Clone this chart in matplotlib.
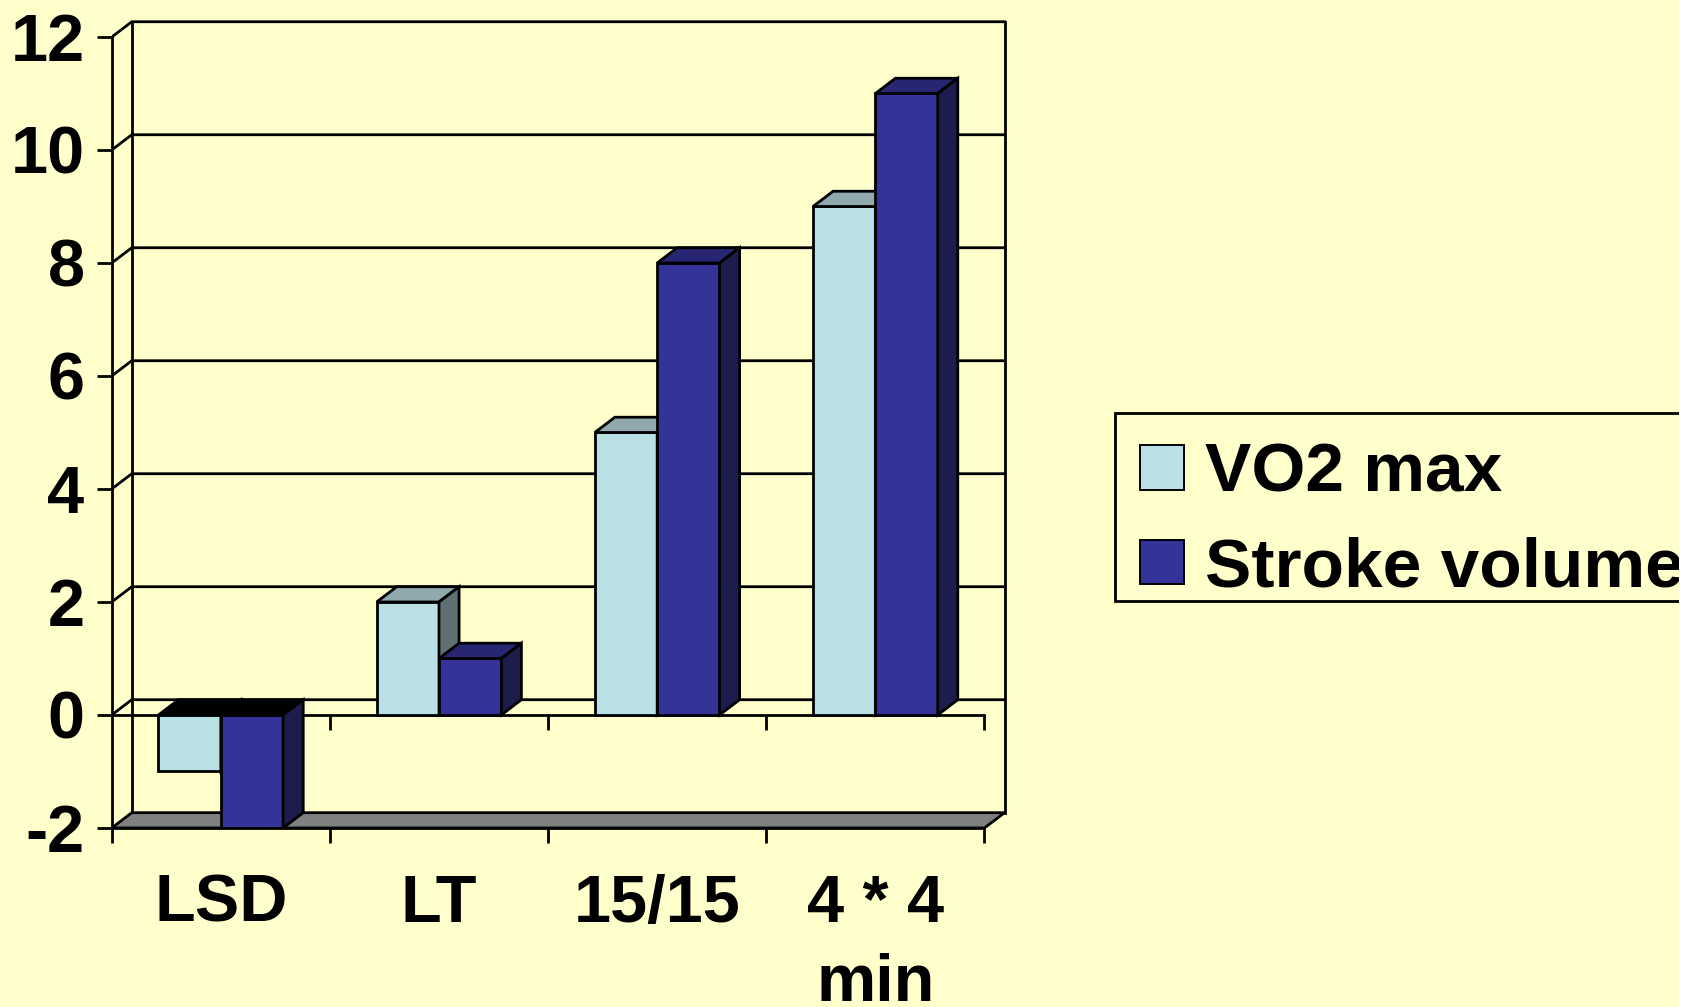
import matplotlib
matplotlib.use('Agg')
import matplotlib.pyplot as plt
from matplotlib.patches import Polygon, Rectangle, Patch

categories = ['LSD', 'LT', '15/15', '4 * 4\nmin']
vo2_max = [-1, 2, 5, 9]
stroke_volume = [-2, 1, 8, 11]
series_names = ['VO2 max', 'Stroke volume']
y_ticks = [-2, 0, 2, 4, 6, 8, 10, 12]

BG = '#FFFFCC'
face_colors = ['#B9E0E4', '#333399']
top_colors = ['#8FA9AC', '#262673']
side_colors = ['#5F7072', '#1C1C4D']

# fake 3d depth, in data units (x = categories, y = values)
DX = 0.092
DY = 0.27
BAR_W = 1 / 3.5          # excel gap width 150%
GAP = 0.75 * BAR_W
LW = 2.0

plt.rcParams['font.family'] = ['Liberation Sans', 'DejaVu Sans']
plt.rcParams['font.weight'] = 'bold'

fig = plt.figure(figsize=(17.03, 10.07), dpi=100, facecolor=BG)
ax = fig.add_axes([0.0656, 0.1778, 0.5381, 0.8079])
ax.set_facecolor('none')
n = len(categories)
ymin, ymax = y_ticks[0], y_ticks[-1]
ax.set_xlim(0, n + 0.2)
ax.set_ylim(ymin, ymax + 0.4)

# floor
ax.add_patch(Polygon([(0, ymin), (n, ymin), (n + DX, ymin + DY), (DX, ymin + DY)],
                     closed=True, fc='#808080', ec='black', lw=LW, zorder=1))
# back wall with gridlines
for v in y_ticks[1:]:
    ax.plot([0, DX, n + DX], [v, v + DY, v + DY], color='black', lw=LW, zorder=0.5)
for xw in [DX, n + DX]:
    ax.plot([xw, xw], [ymin + DY, ymax + DY], color='black', lw=LW, zorder=0.5)

# front zero line with small ticks
ax.plot([0, n], [0, 0], color='black', lw=LW, zorder=1.5)
ax.plot(list(range(1, n + 1)), [0] * n, ls='none', marker=3, markersize=11,
        mew=LW, color='black', zorder=1.5)


def bar3d(x0, v, i):
    x1 = x0 + BAR_W
    lo, hi = min(0, v), max(0, v)
    ax.add_patch(Rectangle((x0, lo), BAR_W, hi - lo, fc=face_colors[i],
                           ec='black', lw=LW, zorder=2))
    top = top_colors[i] if v > 0 else 'black'
    ax.add_patch(Polygon([(x0, hi), (x1, hi), (x1 + DX, hi + DY), (x0 + DX, hi + DY)],
                         closed=True, fc=top, ec='black', lw=LW, zorder=2))
    ax.add_patch(Polygon([(x1, lo), (x1 + DX, lo + DY), (x1 + DX, hi + DY), (x1, hi)],
                         closed=True, fc=side_colors[i], ec='black', lw=LW, zorder=2))


for k in range(n):
    bar3d(k + GAP, vo2_max[k], 0)
    bar3d(k + GAP + BAR_W, stroke_volume[k], 1)

for s in ['top', 'right']:
    ax.spines[s].set_visible(False)
ax.spines['left'].set_bounds(ymin, ymax)
ax.spines['bottom'].set_bounds(0, n)
for s in ['left', 'bottom']:
    ax.spines[s].set_linewidth(LW)

ax.set_yticks(y_ticks, labels=[str(v) for v in y_ticks])
ax.set_xticks(range(n + 1), labels=[''] * (n + 1))
ax.set_xticks([k + 0.5 for k in range(n)], labels=categories, minor=True)
ax.tick_params(axis='both', which='major', length=11, width=LW, labelsize=48)
ax.tick_params(axis='y', pad=8.6)
ax.tick_params(axis='x', which='minor', length=0, pad=33, labelsize=48)
for lbl in ax.get_xticklabels(minor=True):
    lbl.set_linespacing(1.36)

# legend frame drawn separately, it runs off the right edge
fig.add_artist(Rectangle((1115 / 1703, 1 - 601 / 1007), 0.5, 188 / 1007,
                         transform=fig.transFigure, fc=BG, ec='black', lw=LW, zorder=4))
handles = [Patch(fc=face_colors[i], ec='black', lw=1.4) for i in range(2)]
leg = fig.legend(handles, series_names, loc='upper left',
                 bbox_to_anchor=(1140 / 1703, 1 - 442 / 1007), fontsize=50,
                 frameon=False, borderaxespad=0, borderpad=0,
                 handlelength=0.63, handleheight=0.6, handletextpad=0.3,
                 labelspacing=0.445)
leg.set_zorder(5)

# white strip on the right edge of the original picture
fig.add_artist(Rectangle((1679 / 1703, 0), 1, 1, transform=fig.transFigure,
                         fc='white', ec='none', zorder=10))

fig.savefig('out.png', dpi=100, facecolor=BG)
